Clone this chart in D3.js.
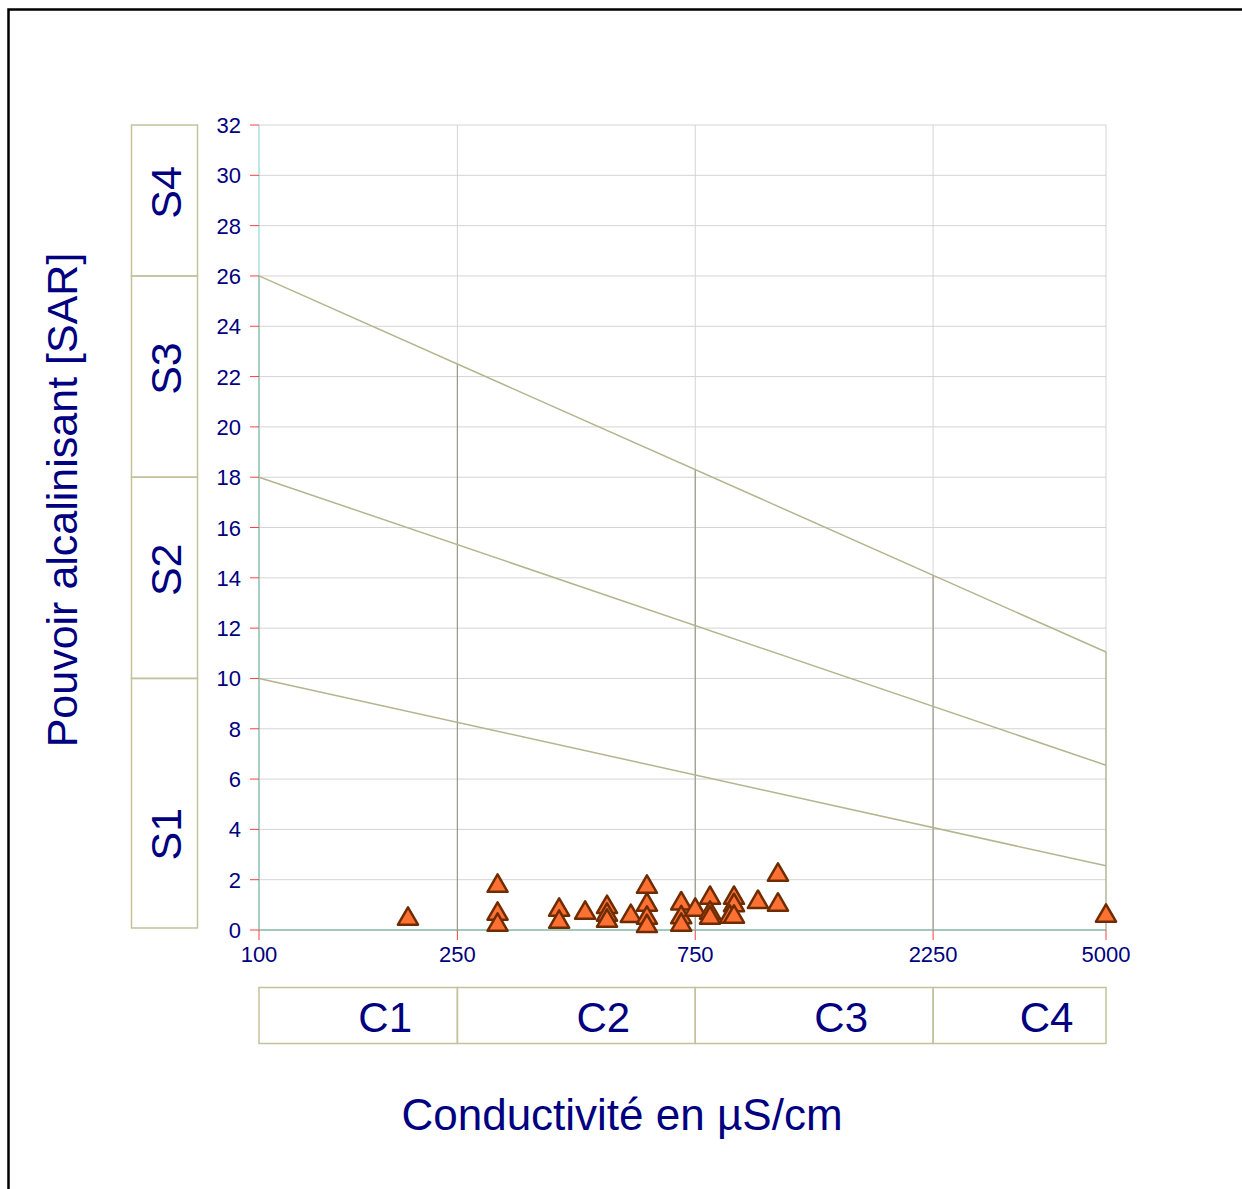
<!DOCTYPE html>
<html>
<head>
<meta charset="utf-8">
<script src="https://cdn.jsdelivr.net/npm/d3@7"></script>
<style>
  body { margin:0; background:#fff; }
  svg text { font-family: Arial, "Liberation Sans", sans-serif; fill:#000080; }
</style>
</head>
<body>
<svg id="chart" width="1242" height="1189"></svg>
<script>
// conductivity (µS/cm) and SAR of each sample
var conductivity = [199, 301, 301, 301, 400, 400, 451, 499, 499, 499, 557, 600, 600, 600, 600,
  703, 703, 703, 750, 803, 803, 803, 897, 897, 880, 897, 1002, 1099, 1099, 5000];
var sar = [0.44, 1.75, 0.64, 0.2, 0.8, 0.32, 0.68, 0.91, 0.6, 0.36, 0.55, 1.71, 1.0, 0.48, 0.15,
  1.05, 0.5, 0.2, 0.8, 1.27, 0.68, 0.48, 1.27, 0.98, 0.52, 0.52, 1.11, 2.19, 1.0, 0.56];

var xTicks = [100, 250, 750, 2250, 5000];
var yTicks = d3.range(0, 33, 2);

// class limits
var cClasses = [{name:'C1', from:100, to:250}, {name:'C2', from:250, to:750},
                {name:'C3', from:750, to:2250}, {name:'C4', from:2250, to:5000}];
var sClasses = [{name:'S1', from:0, to:10}, {name:'S2', from:10, to:18},
                {name:'S3', from:18, to:26}, {name:'S4', from:26, to:32}];
// boundary lines between S classes : SAR at 100 and at 5000 µS/cm
var sLimits = [[10, 2.55], [18, 6.55], [26, 11.05]];

var svg = d3.select('#chart');
var x = d3.scaleLog().domain([100, 5000]).range([259, 1106]);
var y = d3.scaleLinear().domain([0, 32]).range([930, 125]);

// outer frame
svg.append('rect').attr('x', 8.5).attr('y', 9.5).attr('width', 1300).attr('height', 1300)
  .attr('fill', 'none').attr('stroke', '#000').attr('stroke-width', 2.5);

// grid
svg.append('g').selectAll('line').data(yTicks.slice(1)).enter().append('line')
  .attr('x1', x(100)).attr('x2', x(5000))
  .attr('y1', function(d){ return y(d); }).attr('y2', function(d){ return y(d); })
  .attr('stroke', '#d4d4d4').attr('stroke-width', 1);
svg.append('g').selectAll('line').data(xTicks.slice(1)).enter().append('line')
  .attr('x1', function(d){ return x(d); }).attr('x2', function(d){ return x(d); })
  .attr('y1', y(0)).attr('y2', y(32))
  .attr('stroke', '#d4d4d4').attr('stroke-width', 1);

// class boundary lines (vertical, up to the highest S line)
var topLimit = sLimits[2];
function sAt(lim, c){
  var t = (Math.log10(c) - 2) / (Math.log10(5000) - 2);
  return lim[0] + (lim[1] - lim[0]) * t;
}
svg.append('g').selectAll('line').data(xTicks).enter().append('line')
  .attr('x1', function(d){ return x(d); }).attr('x2', function(d){ return x(d); })
  .attr('y1', y(0)).attr('y2', function(d){ return y(sAt(topLimit, d)); })
  .attr('stroke', function(d){ return (d === 100 || d === 5000) ? '#b0b08a' : '#9a9a8a'; })
  .attr('stroke-width', 1.2);

// S limit lines
svg.append('g').selectAll('line').data(sLimits).enter().append('line')
  .attr('x1', x(100)).attr('x2', x(5000))
  .attr('y1', function(d){ return y(d[0]); }).attr('y2', function(d){ return y(d[1]); })
  .attr('stroke', '#b4b48e').attr('stroke-width', 1.5);

// axes lines
svg.append('line').attr('x1', x(100)).attr('x2', x(100)).attr('y1', y(0)).attr('y2', y(32))
  .attr('stroke', '#7fd0d0').attr('stroke-width', 1);
svg.append('line').attr('x1', x(100)).attr('x2', x(5000)).attr('y1', y(0)).attr('y2', y(0))
  .attr('stroke', '#80b8a8').attr('stroke-width', 1.5);

// y ticks
var yAx = svg.append('g');
yAx.selectAll('line').data(yTicks).enter().append('line')
  .attr('x1', 250).attr('x2', 259)
  .attr('y1', function(d){ return y(d); }).attr('y2', function(d){ return y(d); })
  .attr('stroke', '#ff4040').attr('stroke-width', 1);
yAx.selectAll('text').data(yTicks).enter().append('text')
  .attr('x', 241).attr('y', function(d){ return y(d) + 8; })
  .attr('text-anchor', 'end').style('font-size', '22px')
  .text(function(d){ return d; });

// x ticks
var xAx = svg.append('g');
xAx.selectAll('line').data(xTicks).enter().append('line')
  .attr('x1', function(d){ return x(d); }).attr('x2', function(d){ return x(d); })
  .attr('y1', 930).attr('y2', 940)
  .attr('stroke', '#ff4040').attr('stroke-width', 1);
xAx.selectAll('text').data(xTicks).enter().append('text')
  .attr('x', function(d){ return x(d); }).attr('y', 962)
  .attr('text-anchor', 'middle').style('font-size', '22px')
  .text(function(d){ return d; });

// S class boxes
var sBox = svg.append('g');
sBox.selectAll('rect').data(sClasses).enter().append('rect')
  .attr('x', 131.5).attr('width', 66)
  .attr('y', function(d){ return y(d.to); })
  .attr('height', function(d){ return (d.from === 0 ? y(d.from) - 2 : y(d.from)) - y(d.to); })
  .attr('fill', 'none').attr('stroke', '#c2c29e').attr('stroke-width', 1.5);
sBox.selectAll('text').data(sClasses).enter().append('text')
  .attr('transform', function(d){
    var cy = (y(d.from) + y(d.to)) / 2 + (d.from === 0 ? 30 : -8);
    return 'translate(181,' + cy + ') rotate(-90)';
  })
  .attr('text-anchor', 'middle').style('font-size', '43px')
  .text(function(d){ return d.name; });

// C class boxes
var cBox = svg.append('g');
cBox.selectAll('rect').data(cClasses).enter().append('rect')
  .attr('x', function(d){ return x(d.from); }).attr('y', 987.5)
  .attr('width', function(d){ return x(d.to) - x(d.from); }).attr('height', 56)
  .attr('fill', 'none').attr('stroke', '#c2c29e').attr('stroke-width', 1.5);
cBox.selectAll('text').data(cClasses).enter().append('text')
  .attr('x', function(d){ return (x(d.from) + x(d.to)) / 2 + 27; }).attr('y', 1032)
  .attr('text-anchor', 'middle').style('font-size', '42px')
  .text(function(d){ return d.name; });

// samples
var tri = d3.symbol().type(d3.symbolTriangle).size(175);
svg.append('g').selectAll('path').data(d3.range(conductivity.length)).enter().append('path')
  .attr('d', tri)
  .attr('transform', function(i){ return 'translate(' + x(conductivity[i]) + ',' + y(sar[i]) + ')'; })
  .attr('fill', '#ff7033').attr('stroke', '#6e2c00').attr('stroke-width', 2.5)
  .attr('stroke-linejoin', 'round');

// axis titles
svg.append('text').attr('transform', 'translate(77,500) rotate(-90)')
  .attr('text-anchor', 'middle').style('font-size', '43px')
  .text('Pouvoir alcalinisant [SAR]');
svg.append('text').attr('x', 622).attr('y', 1130)
  .attr('text-anchor', 'middle').style('font-size', '44px')
  .text('Conductivité en µS/cm');
</script>
</body>
</html>
